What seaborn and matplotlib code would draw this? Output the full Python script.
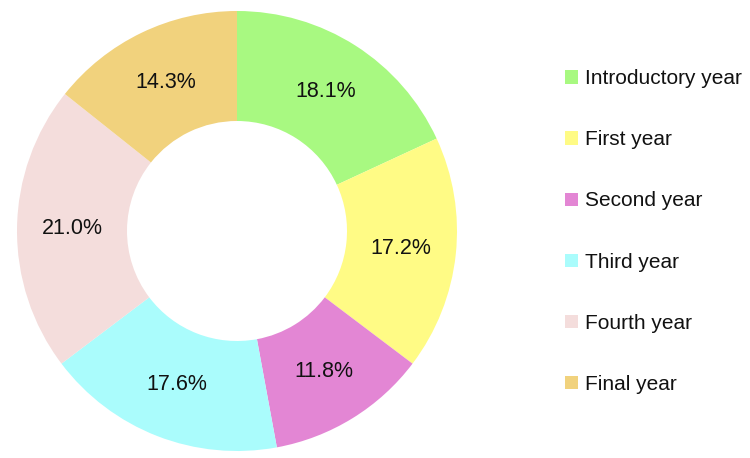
import matplotlib
matplotlib.use("Agg")
import matplotlib.pyplot as plt
import seaborn as sns

years = ["Introductory year", "First year", "Second year", "Third year", "Fourth year", "Final year"]
shares = [18.1, 17.2, 11.8, 17.6, 21.0, 14.3]
colors = ["#a8f981", "#fffb85", "#e386d4", "#aafcfc", "#f4dddc", "#f1d27d"]

sns.set_theme(style="white")
plt.rcParams['font.family'] = ['Liberation Sans', 'DejaVu Sans']

fig = plt.figure(figsize=(7.5, 4.58), dpi=100)
ax = fig.add_axes([17/750, 7/458, 440/750, 440/458])

wedges, texts, autotexts = ax.pie(
    shares, colors=colors, startangle=90, counterclock=False,
    autopct="%.1f%%", pctdistance=0.75,
    wedgeprops=dict(width=0.5, edgecolor="none"),
    textprops=dict(fontsize=15.5, color="#111111"))
ax.set_xlim(-1, 1)
ax.set_ylim(-1, 1)
ax.set_aspect("equal")

leg = fig.legend(wedges, years, loc="upper left", bbox_to_anchor=(557/750, 1 - 61/458),
                 frameon=False, fontsize=15, handlelength=0.6, handleheight=0.6,
                 handletextpad=0.35, labelspacing=2.02, borderaxespad=0)
for t in leg.get_texts():
    t.set_color("#111111")

fig.savefig("out.png", dpi=100, facecolor="white")
